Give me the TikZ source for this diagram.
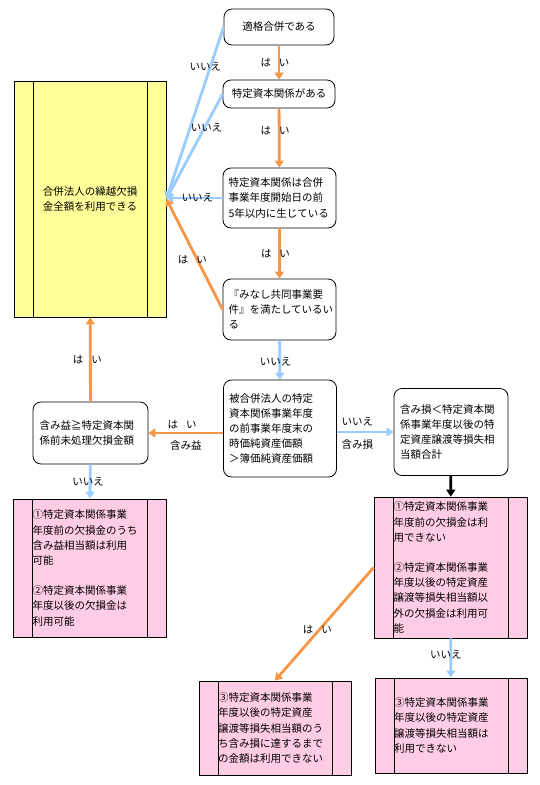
\documentclass[tikz,border=0pt]{standalone}
\usepackage{fontspec}
\setmainfont{Noto Sans CJK JP}
\usetikzlibrary{arrows.meta}
\definecolor{yesorange}{RGB}{247,150,70}
\definecolor{noblue}{RGB}{153,204,255}
\definecolor{boxyellow}{RGB}{255,255,153}
\definecolor{boxpink}{RGB}{255,204,229}
\tikzset{
  cond/.style={draw,line width=0.8pt,rounded corners=8pt,fill=white,inner sep=0pt,align=center},
  condtext/.style={cond,text width=102pt,align=left},
  result/.style={draw,line width=0.8pt,inner sep=0pt,text width=114pt,align=left,
    path picture={\draw[line width=0.8pt] ([xshift=19pt]path picture bounding box.north west)--([xshift=19pt]path picture bounding box.south west)
      ([xshift=-19pt]path picture bounding box.north east)--([xshift=-19pt]path picture bounding box.south east);}},
  yes/.style={yesorange,line width=2.8pt,-{Triangle[length=7pt,width=9pt]}},
  no/.style={noblue,line width=2.8pt,-{Triangle[length=7pt,width=9pt]}},
  lbl/.style={text=black,inner sep=0pt},
}

\begin{document}
\begin{tikzpicture}[x=1pt,y=-1pt,font=\fontsize{10.5}{15.2}\selectfont]
  \useasboundingbox[fill=white] (0,0) rectangle (540,785);
  \node[cond,minimum width=110pt,minimum height=36pt] (merge) at (279,27) {適格合併である};
  \node[cond,minimum width=112pt,minimum height=28pt] (rel) at (279,94) {特定資本関係がある};
  \node[condtext,minimum width=113pt,minimum height=60pt] (five) at (279.5,198) {特定資本関係は合併\\事業年度開始日の前\\5年以内に生じている};
  \node[condtext,minimum width=113pt,minimum height=61pt] (joint) at (279.5,309.5) {『みなし共同事業要\\件』を満たしているい\\る};
  \node[condtext,minimum width=113pt,minimum height=97pt] (value) at (280,428.5) {被合併法人の特定\\資本関係事業年度\\の前事業年度末の\\時価純資産価額\\＞簿価純資産価額};
  \node[condtext,minimum width=115pt,minimum height=62pt] (gain) at (90.5,433) {含み益≧特定資本関\\係前未処理欠損金額};
  \node[condtext,minimum width=114pt,minimum height=87pt] (loss) at (451,432) {含み損＜特定資本関\\係事業年度以後の特\\定資産譲渡等損失相\\当額合計};

  \node[result,fill=boxyellow,align=center,minimum width=152pt,minimum height=236pt] (all) at (90,199) {合併法人の繰越欠損\\金全額を利用できる};
  \node[result,fill=boxpink,minimum width=153pt,minimum height=138pt] (gainres) at (89.5,568) {①特定資本関係事業\\年度前の欠損金のうち\\含み益相当額は利用\\可能\\[15pt]②特定資本関係事業\\年度以後の欠損金は\\利用可能};
  \node[result,fill=boxpink,minimum width=153pt,minimum height=141pt] (lossres) at (450.5,567.5) {①特定資本関係事業\\年度前の欠損金は利\\用できない\\[15pt]②特定資本関係事業\\年度以後の特定資産\\譲渡等損失相当額以\\外の欠損金は利用可\\能};
  \node[result,fill=boxpink,minimum width=152pt,minimum height=94pt] (partres) at (275,728) {③特定資本関係事業\\年度以後の特定資産\\譲渡等損失相当額のう\\ち含み損に達するまで\\の金額は利用できない};
  \node[result,fill=boxpink,minimum width=152pt,minimum height=95pt] (noneres) at (451,725.5) {③特定資本関係事業\\年度以後の特定資産\\譲渡等損失相当額は\\利用できない};

  \draw[no] (merge.west) -- (all.east) node[lbl,pos=.23,xshift=-5pt]{いいえ};
  \draw[no] (rel.west) -- (all.east) node[lbl,pos=.32,xshift=2pt]{いいえ};
  \draw[no] (five.west) -- (five.west -| all.east) node[lbl,pos=.45]{いいえ};
  \draw[yes] (joint.west) -- (all.east) node[lbl,pos=.45,xshift=-5pt]{は\hspace{8pt}い};
  \draw[yes] (merge) -- (rel) node[lbl,pos=.5,xshift=-4pt]{は\hspace{8pt}い};
  \draw[yes] (rel) -- (five) node[lbl,pos=.37,xshift=-4pt]{は\hspace{8pt}い};
  \draw[yes] (five) -- (joint) node[lbl,pos=.5,xshift=-4pt]{は\hspace{8pt}い};
  \draw[no] (joint) -- (value) node[lbl,pos=.55,xshift=-4pt]{いいえ};
  \draw[yes] (value.west |- gain.east) -- (gain.east)
    node[lbl,pos=.55,yshift=8pt]{は\hspace{8pt}い} node[lbl,pos=.5,yshift=-12pt]{含み益};
  \draw[no] (value.east |- loss.west) -- (loss.west)
    node[lbl,pos=.5,xshift=-8pt,yshift=10pt]{いいえ} node[lbl,pos=.5,xshift=-8pt,yshift=-12pt]{含み損};
  \draw[yes] (gain) -- (all) node[lbl,pos=.5,xshift=-3pt]{は\hspace{8pt}い};
  \draw[no] (gain) -- (gainres) node[lbl,pos=.5,xshift=-2pt]{いいえ};
  \draw[line width=2.8pt,-{Triangle[length=7pt,width=9pt]}] (loss) -- (lossres);
  \draw[yes] (lossres.west) -- (partres.north) node[lbl,pos=.55,xshift=-2pt]{は\hspace{8pt}い};
  \draw[no] (lossres) -- (noneres) node[lbl,pos=.42,xshift=-5pt]{いいえ};
\end{tikzpicture}
\end{document}
